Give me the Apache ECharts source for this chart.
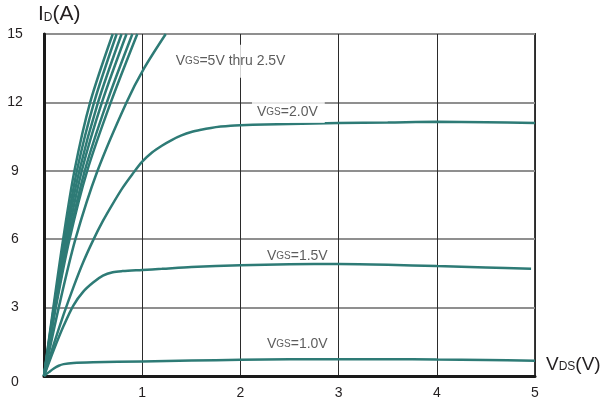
<!DOCTYPE html>
<html>
<head>
<meta charset="utf-8">
<script src="https://cdn.jsdelivr.net/npm/echarts@6/dist/echarts.min.js"></script>
<style>
  html, body { margin: 0; padding: 0; background: #fff; }
  #chart { width: 607px; height: 405px; }
</style>
</head>
<body>
<div id="chart"></div>
<script>
// Output characteristics: drain current ID (A) versus drain-source voltage VDS (V)
// for several gate-source voltages. Each curve is a list of [VDS, ID] points.

// VGS = 5V thru 2.5V (steep family, left to right)
const vgsHigh1 = [[0, 0], [0.095, 3], [0.195, 6], [0.31, 9], [0.47, 12], [0.70, 15]];
const vgsHigh2 = [[0, 0], [0.10, 3], [0.21, 6], [0.335, 9], [0.51, 12], [0.74, 15]];
const vgsHigh3 = [[0, 0], [0.105, 3], [0.22, 6], [0.36, 9], [0.55, 12], [0.79, 15]];
const vgsHigh4 = [[0, 0], [0.11, 3], [0.235, 6], [0.385, 9], [0.59, 12], [0.84, 15]];
const vgsHigh5 = [[0, 0], [0.115, 3], [0.25, 6], [0.415, 9], [0.64, 12], [0.90, 15]];
const vgsHigh6 = [[0, 0], [0.12, 3], [0.26, 6], [0.44, 9], [0.68, 12], [0.95, 15]];
const vgsHigh7 = [[0, 0], [0.15, 3], [0.32, 6], [0.545, 9], [0.84, 12], [1.02, 13.5], [1.24, 15]];

// VGS = 2.0V
const vgs20 = [[0, 0], [0.1, 1.4], [0.2, 2.7], [0.3, 3.9], [0.4, 5.0], [0.5, 5.95], [0.6, 6.8],
  [0.7, 7.55], [0.8, 8.25], [0.9, 8.85], [1.0, 9.4], [1.1, 9.8], [1.2, 10.1], [1.3, 10.35],
  [1.4, 10.55], [1.5, 10.7], [1.6, 10.8], [1.7, 10.88], [1.8, 10.94], [1.9, 10.98],
  [2.0, 11.0], [2.25, 11.03], [2.5, 11.05], [3.0, 11.1], [3.5, 11.12],
  [4.0, 11.15], [4.5, 11.13], [5.0, 11.1]];

// VGS = 1.5V
const vgs15 = [[0, 0], [0.1, 1.15], [0.2, 2.2], [0.3, 3.1], [0.4, 3.7], [0.5, 4.1],
  [0.6, 4.4], [0.7, 4.55], [0.8, 4.6], [1.0, 4.65], [1.2, 4.7], [1.5, 4.78],
  [2.0, 4.86], [2.5, 4.9], [3.0, 4.91], [3.5, 4.88], [4.0, 4.82], [4.5, 4.76], [4.96, 4.7]];

// VGS = 1.0V
const vgs10 = [[0, 0], [0.05, 0.17], [0.1, 0.33], [0.15, 0.45], [0.2, 0.52], [0.3, 0.57],
  [0.5, 0.6], [1.0, 0.64], [1.5, 0.68], [2.0, 0.71], [2.5, 0.73], [3.0, 0.74], [3.5, 0.74],
  [4.0, 0.72], [4.5, 0.7], [5.0, 0.67]];

// Axis ranges and ticks
const vdsTicks = [0, 1, 2, 3, 4, 5];
const idTicks = [0, 3, 6, 9, 12, 15];

// Curve annotations: [VDS, ID] anchor, text
const annotationText = ['5V thru 2.5V', '2.0V', '1.5V', '1.0V'];
const annotationAt = [[1.30, 13.8], [2.118, 11.58], [2.27, 5.27], [2.27, 1.41]];

const curveColor = '#2e7b76';
const textColor = '#231f20';

const curves = [vgsHigh1, vgsHigh2, vgsHigh3, vgsHigh4, vgsHigh5, vgsHigh6, vgsHigh7,
  vgs20, vgs15, vgs10];

const lineSeries = curves.map(function (pts) {
  return {
    type: 'line',
    data: pts,
    showSymbol: false,
    smooth: 0.3,
    lineStyle: { color: curveColor, width: 2.5 },
    silent: true,
    z: 3
  };
});

const labelFont = 'Liberation Sans, Arial, sans-serif';
const richLabel = {
  v: { fontSize: 14, color: '#333', fontFamily: labelFont, verticalAlign: 'bottom', lineHeight: 16, height: 16 },
  s: { fontSize: 10, color: '#333', fontFamily: labelFont, verticalAlign: 'bottom', lineHeight: 13, height: 13, padding: [0, 0, 1, 0] }
};

const labelPadding = [[8, 4, 9, 4], [3, 7, 3, 5], [0, 0, 0, 0], [0, 0, 0, 0]];
const labelBg = ['#ffffff', '#ffffff', 'transparent', 'transparent'];

const annotationSeries = {
  type: 'scatter',
  symbolSize: 0,
  silent: true,
  z: 5,
  data: annotationAt.map(function (p, i) {
    return {
      value: p,
      label: {
        show: true,
        position: 'inside',
        align: 'left',
        verticalAlign: 'middle',
        formatter: '{v|V}{s|GS}{v|=' + annotationText[i] + '}',
        rich: richLabel,
        backgroundColor: labelBg[i],
        padding: labelPadding[i]
      }
    };
  })
};

const chart = echarts.init(document.getElementById('chart'), null, { renderer: 'canvas' });

chart.setOption({
  animation: false,
  backgroundColor: '#ffffff',
  grid: {
    left: 44, right: 72, top: 34, bottom: 29,
    show: true,
    borderColor: '#3a3a3a',
    borderWidth: 2,
    backgroundColor: 'transparent'
  },
  xAxis: {
    type: 'value',
    min: vdsTicks[0],
    max: vdsTicks[vdsTicks.length - 1],
    interval: 1,
    axisLine: { show: true, onZero: false, lineStyle: { color: '#1a1a1a', width: 3 } },
    axisTick: { show: false },
    axisLabel: {
      margin: 10,
      fontSize: 14,
      color: textColor,
      fontFamily: labelFont,
      formatter: function (v) { return v === 0 ? '' : String(v); }
    },
    splitLine: { show: true, lineStyle: { color: '#2b2b2b', width: 1 } }
  },
  yAxis: {
    type: 'value',
    min: idTicks[0],
    max: idTicks[idTicks.length - 1],
    interval: 3,
    axisLine: { show: true, onZero: false, lineStyle: { color: '#1a1a1a', width: 3 } },
    axisTick: { show: false },
    axisLabel: {
      margin: 29,
      align: 'center',
      fontSize: 14,
      color: textColor,
      fontFamily: labelFont,
      formatter: function (v) { return v === 0 ? '{z|0}' : String(v); },
      rich: { z: { fontSize: 14, color: textColor, padding: [12, 0, 0, 0], fontFamily: labelFont } }
    },
    splitLine: { show: true, lineStyle: { color: '#8f8f8f', width: 2 } }
  },
  graphic: [
    {
      type: 'text',
      x: 38, y: 26,
      style: {
        text: '{a|I}{b|D}{a|(A)}',
        verticalAlign: 'bottom',
        rich: {
          a: { fontSize: 21, fill: textColor, fontFamily: labelFont, verticalAlign: 'bottom', lineHeight: 23, height: 23 },
          b: { fontSize: 12, fill: textColor, fontFamily: labelFont, verticalAlign: 'bottom', lineHeight: 15, height: 15, padding: [0, 0, 1, 0] }
        }
      }
    },
    {
      type: 'text',
      x: 546, y: 375,
      style: {
        text: '{a|V}{b|DS}{a|(V)}',
        verticalAlign: 'bottom',
        rich: {
          a: { fontSize: 19, fill: textColor, fontFamily: labelFont, verticalAlign: 'bottom', lineHeight: 21, height: 21 },
          b: { fontSize: 12, fill: textColor, fontFamily: labelFont, verticalAlign: 'bottom', lineHeight: 15, height: 15, padding: [0, 0, 1, 0] }
        }
      }
    }
  ],
  series: lineSeries.concat([annotationSeries])
});
</script>
</body>
</html>
